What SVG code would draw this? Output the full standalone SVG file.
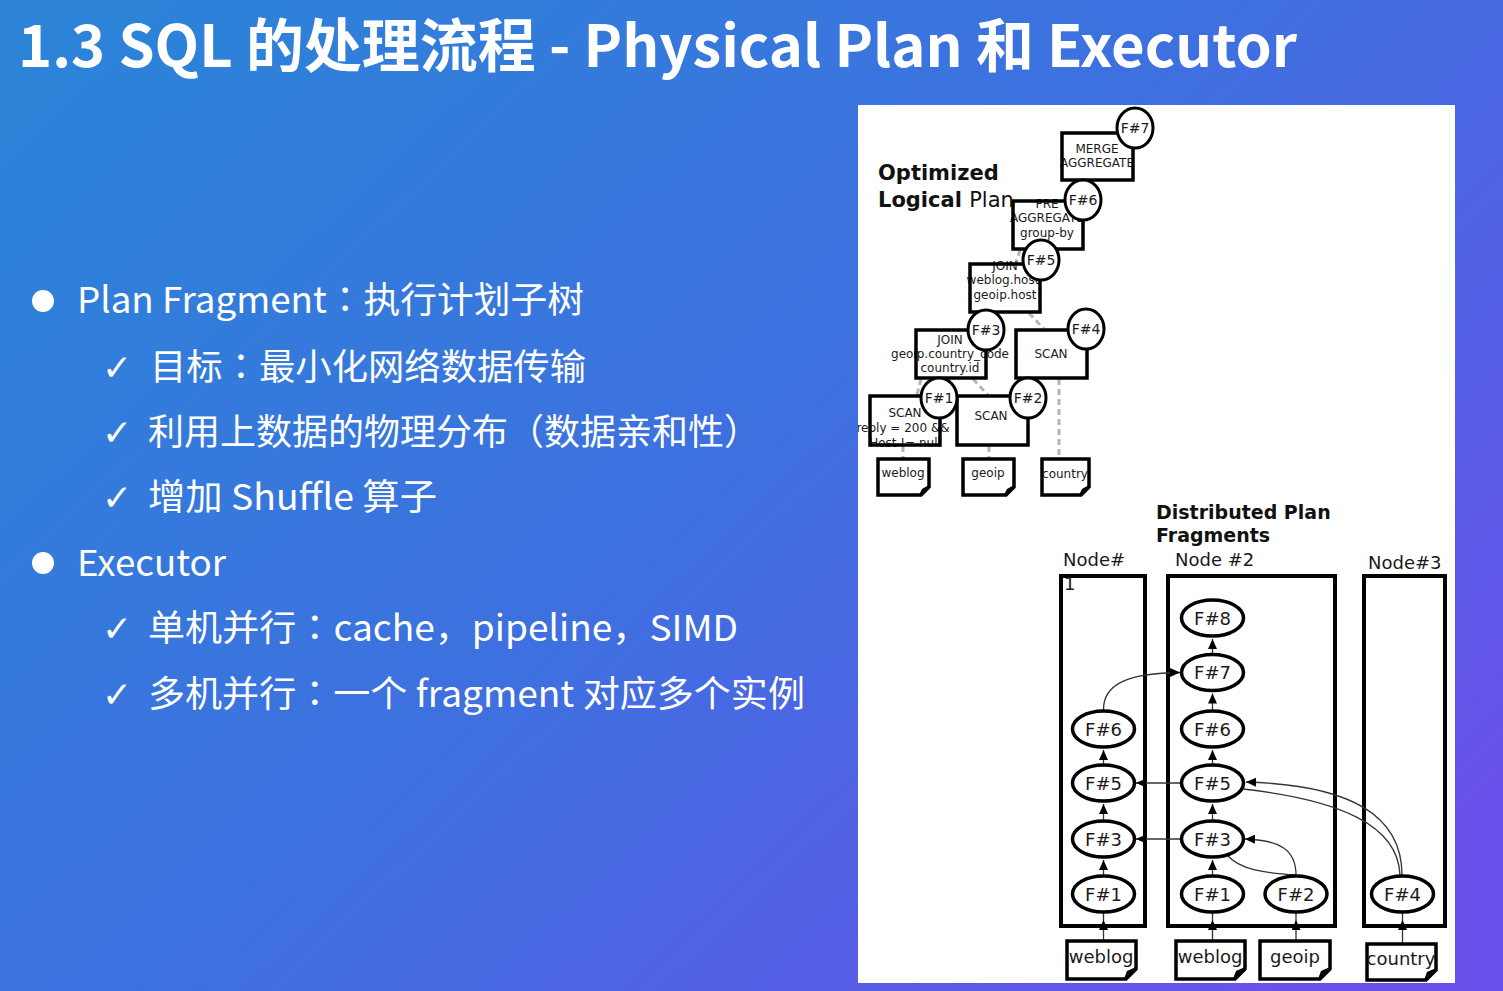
<svg xmlns="http://www.w3.org/2000/svg" width="1503" height="991" viewBox="0 0 1503 991">
<defs>
<linearGradient id="bg" x1="0" y1="0.15" x2="1" y2="0.85">
<stop offset="0" stop-color="#2c83d8"/>
<stop offset="0.5" stop-color="#3f6fe0"/>
<stop offset="1" stop-color="#6a4fea"/>
</linearGradient>
<clipPath id="panel"><rect x="858" y="105" width="597" height="878"/></clipPath>
<marker id="ah" markerUnits="userSpaceOnUse" markerWidth="12" markerHeight="10" refX="10" refY="4.5" orient="auto"><path d="M0,0 L10,4.5 L0,9 z" fill="#000"/></marker>
<style>
.bx{fill:#fff;stroke:none}
.ol{fill:none;stroke:#000;stroke-width:3.5}
.c{fill:#fff;stroke:#000;stroke-width:3}
.t12{font-family:"DejaVu Sans",sans-serif;font-size:12px;fill:#1a1a1a;text-anchor:middle}
.fl{font-family:"DejaVu Sans",sans-serif;font-size:14px;fill:#1a1a1a;text-anchor:middle}
.dash{stroke:#b4b4b4;stroke-width:3;stroke-dasharray:6 4;fill:none}
.nb{fill:none;stroke:#000;stroke-width:4}
.el{fill:#fff;stroke:#000;stroke-width:3.5}
.fd{font-family:"DejaVu Sans",sans-serif;font-size:18px;fill:#1a1a1a;text-anchor:middle}
.nl{font-family:"DejaVu Sans",sans-serif;font-size:18px;fill:#1a1a1a}
.ar{fill:none;stroke:#333;stroke-width:1.3}
.doc{fill:#fff;stroke:#000;stroke-width:3.5;stroke-linejoin:miter}
.bul{font-family:"Noto Sans CJK SC","Noto Sans",sans-serif;font-size:36px;fill:#fff}
.p{font-family:"Noto Sans CJK TC","Noto Sans CJK SC",sans-serif}
.chk{font-family:"DejaVu Sans",sans-serif;font-size:36px;font-weight:bold;fill:#fff}
.hd{font-family:"DejaVu Sans",sans-serif;font-weight:bold;fill:#111}
</style>
</defs>
<rect x="0" y="0" width="1503" height="991" fill="url(#bg)"/>

<g id="title">
<text x="18" y="67" font-family="'Noto Sans CJK SC','Noto Sans',sans-serif" font-weight="bold" font-size="58" fill="#fff" textLength="1279" lengthAdjust="spacingAndGlyphs">1.3 SQL 的处理流程 - Physical Plan 和 Executor</text>
</g>

<g id="bullets">
<circle cx="43" cy="301" r="11" fill="#fff"/>
<text class="bul" x="77" y="313" textLength="507" lengthAdjust="spacingAndGlyphs">Plan Fragment<tspan class="p">：</tspan>执行计划子树</text>
<text class="chk" x="102" y="380">✓</text>
<text class="bul" x="150" y="380" textLength="436" lengthAdjust="spacingAndGlyphs">目标<tspan class="p">：</tspan>最小化网络数据传输</text>
<text class="chk" x="102" y="445">✓</text>
<text class="bul" x="148" y="445" textLength="612" lengthAdjust="spacingAndGlyphs">利用上数据的物理分布（数据亲和性）</text>
<text class="chk" x="102" y="510">✓</text>
<text class="bul" x="148" y="510" textLength="289" lengthAdjust="spacingAndGlyphs">增加 Shuffle 算子</text>
<circle cx="43" cy="563" r="11" fill="#fff"/>
<text class="bul" x="77" y="576" textLength="149" lengthAdjust="spacingAndGlyphs">Executor</text>
<text class="chk" x="102" y="641">✓</text>
<text class="bul" x="148" y="641" textLength="590" lengthAdjust="spacingAndGlyphs">单机并行<tspan class="p">：</tspan>cache，pipeline，SIMD</text>
<text class="chk" x="102" y="707">✓</text>
<text class="bul" x="148" y="707" textLength="657" lengthAdjust="spacingAndGlyphs">多机并行<tspan class="p">：</tspan>一个 fragment 对应多个实例</text>
</g>

<rect id="panel-bg" x="858" y="105" width="597" height="878" fill="#fff"/>

<g id="logical-plan" clip-path="url(#panel)">
<g id="lp-connectors">
<path class="dash" d="M1029,313 L1044,329"/>
<path class="dash" d="M973,379 L988,395"/>
<path class="dash" d="M921,379 L917,395"/>
<path class="dash" d="M1020,250 L1016,263"/>
<path class="dash" d="M1059,379 V457"/>
<path class="dash" d="M903,446 V458"/>
<path class="dash" d="M989,446 V458"/>
</g>
<g id="lp-merge">
<rect class="bx" x="1062" y="133" width="71" height="47"/>
<text class="t12" x="1097" y="153">MERGE</text>
<text class="t12" x="1097" y="167">AGGREGATE</text>
<rect class="ol" x="1062" y="133" width="71" height="47"/>
</g>
<g id="lp-pre">
<rect class="bx" x="1013" y="201" width="70" height="48"/>
<text class="t12" x="1047" y="208">PRE</text>
<text class="t12" x="1047" y="222">AGGREGATE</text>
<text class="t12" x="1047" y="237">group-by</text>
<rect class="ol" x="1013" y="201" width="70" height="48"/>
</g>
<g id="lp-join1">
<rect class="bx" x="970" y="264" width="70" height="48"/>
<text class="t12" x="1005" y="270">JOIN</text>
<text class="t12" x="1003" y="284">weblog.host</text>
<text class="t12" x="1005" y="299">geoip.host</text>
<rect class="ol" x="970" y="264" width="70" height="48"/>
</g>
<g id="lp-join2">
<rect class="bx" x="916" y="330" width="70" height="48"/>
<text class="t12" x="950" y="344">JOIN</text>
<text class="t12" x="950" y="358">geoip.country_code</text>
<text class="t12" x="950" y="372">country.id</text>
<rect class="ol" x="916" y="330" width="70" height="48"/>
</g>
<g id="lp-scan4">
<rect class="bx" x="1016" y="330" width="71" height="48"/>
<text class="t12" x="1051" y="358">SCAN</text>
<rect class="ol" x="1016" y="330" width="71" height="48"/>
</g>
<g id="lp-scan1">
<rect class="bx" x="870" y="396" width="70" height="49"/>
<text class="t12" x="905" y="417">SCAN</text>
<text class="t12" x="903" y="432">reply = 200 &amp;&amp;</text>
<text class="t12" x="905" y="447">Host != null</text>
<rect class="ol" x="870" y="396" width="70" height="49"/>
</g>
<g id="lp-scan2">
<rect class="bx" x="957" y="396" width="71" height="49"/>
<text class="t12" x="991" y="420">SCAN</text>
<rect class="ol" x="957" y="396" width="71" height="49"/>
</g>
<g id="lp-doc-weblog">
<path class="doc" d="M878,459 H929 V487 L921,495 H878 Z"/>
<path d="M919,495 L929,485 L922,489 Z" fill="#000"/>
<text class="t12" x="903" y="477">weblog</text>
</g>
<g id="lp-doc-geoip">
<path class="doc" d="M963,459 H1014 V487 L1006,495 H963 Z"/>
<path d="M1004,495 L1014,485 L1007,489 Z" fill="#000"/>
<text class="t12" x="988" y="477">geoip</text>
</g>
<g id="lp-doc-country">
<path class="doc" d="M1042,459 H1089 V487 L1081,495 H1042 Z"/>
<path d="M1079,495 L1089,485 L1082,489 Z" fill="#000"/>
<text class="t12" x="1065" y="478">country</text>
</g>
<g id="lp-f7"><ellipse class="c" cx="1135" cy="128" rx="18" ry="20"/><text class="fl" x="1135" y="133">F#7</text></g>
<g id="lp-f6"><ellipse class="c" cx="1083" cy="200" rx="18" ry="20"/><text class="fl" x="1083" y="205">F#6</text></g>
<g id="lp-f5"><ellipse class="c" cx="1041" cy="260" rx="18" ry="20"/><text class="fl" x="1041" y="265">F#5</text></g>
<g id="lp-f3"><ellipse class="c" cx="986" cy="330" rx="18" ry="20"/><text class="fl" x="986" y="335">F#3</text></g>
<g id="lp-f4"><ellipse class="c" cx="1086" cy="329" rx="18" ry="20"/><text class="fl" x="1086" y="334">F#4</text></g>
<g id="lp-f1"><ellipse class="c" cx="939" cy="398" rx="18" ry="20"/><text class="fl" x="939" y="403">F#1</text></g>
<g id="lp-f2"><ellipse class="c" cx="1028" cy="398" rx="18" ry="20"/><text class="fl" x="1028" y="403">F#2</text></g>
<text class="hd" x="878" y="180" font-size="21">Optimized</text>
<text class="hd" x="878" y="207" font-size="21">Logical <tspan font-weight="normal">Plan</tspan></text>
</g>

<g id="distributed-plan">
<text class="hd" x="1156" y="519" font-size="19">Distributed Plan</text>
<text class="hd" x="1156" y="542" font-size="19">Fragments</text>
<g id="node1">
<text class="nl" x="1063" y="566">Node#</text>
<rect class="nb" x="1061" y="576" width="84" height="350"/>
<text class="nl" x="1064" y="590">1</text>
</g>
<g id="node2">
<text class="nl" x="1175" y="566">Node #2</text>
<rect class="nb" x="1168" y="576" width="167" height="350"/>
</g>
<g id="node3">
<text class="nl" x="1368" y="569">Node#3</text>
<rect class="nb" x="1364" y="576" width="81" height="350"/>
</g>

<g id="connectors">
<path class="ar" d="M1212.5,653 V639" marker-end="url(#ah)"/>
<path class="ar" d="M1212.5,709.5 V693.5" marker-end="url(#ah)"/>
<path class="ar" d="M1212.5,763.5 V750" marker-end="url(#ah)"/>
<path class="ar" d="M1212.5,819.5 V804" marker-end="url(#ah)"/>
<path class="ar" d="M1212.5,874.5 V860" marker-end="url(#ah)"/>
<path class="ar" d="M1103.5,763.5 V750" marker-end="url(#ah)"/>
<path class="ar" d="M1103.5,819.5 V804" marker-end="url(#ah)"/>
<path class="ar" d="M1103.5,874.5 V860" marker-end="url(#ah)"/>
<path class="ar" d="M1103.5,941 V920" marker-end="url(#ah)"/>
<path class="ar" d="M1103.5,920 V913"/>
<path class="ar" d="M1212.5,941 V920" marker-end="url(#ah)"/>
<path class="ar" d="M1212.5,920 V913"/>
<path class="ar" d="M1296,941 V920" marker-end="url(#ah)"/>
<path class="ar" d="M1296,920 V913"/>
<path class="ar" d="M1402.5,944 V920" marker-end="url(#ah)"/>
<path class="ar" d="M1402.5,920 V913"/>
<path class="ar" d="M1181,783 H1136" marker-end="url(#ah)"/>
<path class="ar" d="M1181,839 H1136" marker-end="url(#ah)"/>
<path class="ar" d="M1103.5,710 C1103,683 1130,673 1180,672.5" marker-end="url(#ah)"/>
<path class="ar" d="M1296,875 C1296,850 1280,840 1245,839" marker-end="url(#ah)"/>
<path class="ar" d="M1227,855 C1240,870 1265,873 1296,875"/>
<path class="ar" d="M1402,875 C1402,815 1350,785 1246,782" marker-end="url(#ah)"/>
<path class="ar" d="M1400,875 C1398,825 1340,800 1243,789"/>
</g>

<g id="n1-f6"><ellipse class="el" cx="1103.5" cy="729" rx="31" ry="18"/><text class="fd" x="1103.5" y="735.5">F#6</text></g>
<g id="n1-f5"><ellipse class="el" cx="1103.5" cy="783" rx="31" ry="18"/><text class="fd" x="1103.5" y="789.5">F#5</text></g>
<g id="n1-f3"><ellipse class="el" cx="1103.5" cy="839" rx="31" ry="18"/><text class="fd" x="1103.5" y="845.5">F#3</text></g>
<g id="n1-f1"><ellipse class="el" cx="1103.5" cy="894" rx="31" ry="18"/><text class="fd" x="1103.5" y="900.5">F#1</text></g>
<g id="n2-f8"><ellipse class="el" cx="1212.5" cy="618" rx="31" ry="18"/><text class="fd" x="1212.5" y="624.5">F#8</text></g>
<g id="n2-f7"><ellipse class="el" cx="1212.5" cy="672.5" rx="31" ry="18"/><text class="fd" x="1212.5" y="679">F#7</text></g>
<g id="n2-f6"><ellipse class="el" cx="1212.5" cy="729" rx="31" ry="18"/><text class="fd" x="1212.5" y="735.5">F#6</text></g>
<g id="n2-f5"><ellipse class="el" cx="1212.5" cy="783" rx="31" ry="18"/><text class="fd" x="1212.5" y="789.5">F#5</text></g>
<g id="n2-f3"><ellipse class="el" cx="1212.5" cy="839" rx="31" ry="18"/><text class="fd" x="1212.5" y="845.5">F#3</text></g>
<g id="n2-f1"><ellipse class="el" cx="1212.5" cy="894" rx="31" ry="18"/><text class="fd" x="1212.5" y="900.5">F#1</text></g>
<g id="n2-f2"><ellipse class="el" cx="1296" cy="894" rx="31" ry="18"/><text class="fd" x="1296" y="900.5">F#2</text></g>
<g id="n3-f4"><ellipse class="el" cx="1402.5" cy="894" rx="31" ry="18"/><text class="fd" x="1402.5" y="900.5">F#4</text></g>

<g id="d-weblog1">
<path class="doc" d="M1067,941 H1136 V969 L1126,979 H1067 Z"/>
<path d="M1124,979 L1136,967 L1127,971 Z" fill="#000"/>
<text class="fd" x="1101" y="963">weblog</text>
</g>
<g id="d-weblog2">
<path class="doc" d="M1176,941 H1245 V969 L1235,979 H1176 Z"/>
<path d="M1233,979 L1245,967 L1236,971 Z" fill="#000"/>
<text class="fd" x="1210" y="963">weblog</text>
</g>
<g id="d-geoip">
<path class="doc" d="M1260,941 H1330 V969 L1320,979 H1260 Z"/>
<path d="M1318,979 L1330,967 L1321,971 Z" fill="#000"/>
<text class="fd" x="1295" y="963">geoip</text>
</g>
<g id="d-country">
<path class="doc" d="M1367,944 H1436 V970 L1426,980 H1367 Z"/>
<path d="M1424,980 L1436,968 L1427,972 Z" fill="#000"/>
<text class="fd" x="1401" y="965">country</text>
</g>
</g>
</svg>
